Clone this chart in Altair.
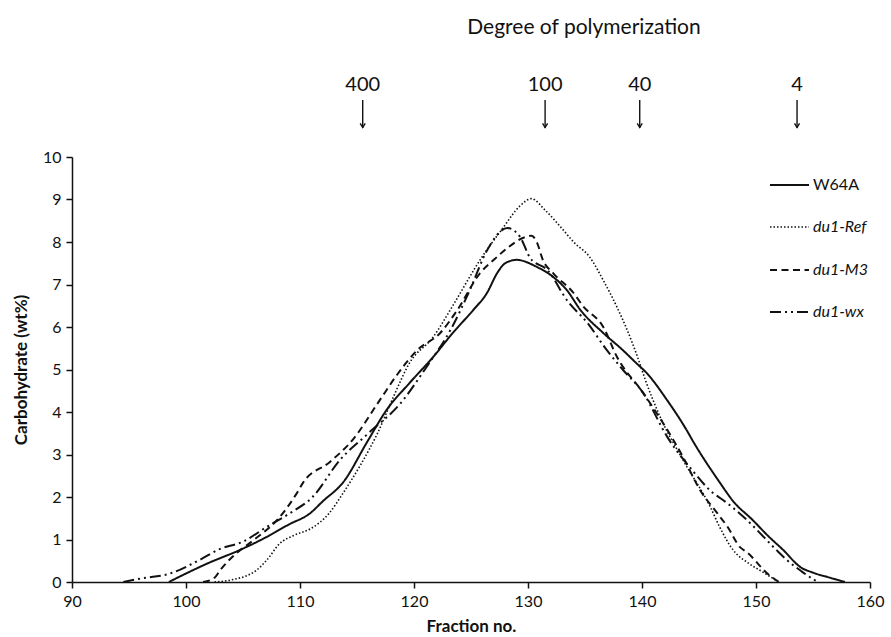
import altair as alt
import pandas as pd

# Elution profiles: fraction number vs carbohydrate (wt%)
w64a_x = [98.5, 100, 102, 104.7, 107, 109, 110.9, 112, 113.8, 115.9, 117.6, 119.6, 121.7, 123.4, 125.2,
          126.4, 127.3, 128, 129, 130.8, 132.2, 133.4, 134.6, 136.6, 138.3, 139.5, 140.4, 142.2, 143.9,
          144.5, 146.8, 148, 149.7, 151, 152.4, 153.9, 155, 156.5, 157.8]
w64a_y = [0, 0.2, 0.45, 0.75, 1.05, 1.35, 1.62, 1.9, 2.35, 3.3, 4.05, 4.68, 5.3, 5.86, 6.4,
          6.8, 7.27, 7.5, 7.58, 7.41, 7.18, 6.87, 6.4, 5.86, 5.46, 5.15, 4.92, 4.28, 3.58,
          3.3, 2.35, 1.9, 1.46, 1.1, 0.75, 0.35, 0.22, 0.1, 0]

ref_x = [102.5, 104, 106.2, 107.1, 108.2, 109.5, 110.9, 112.5, 113.8, 115.3, 116.8, 118.2, 119.6, 121.7,
         123.4, 125.8, 127.8, 129.3, 130.3, 131.5, 133.1, 134, 135.4, 136.6, 137.8, 138.7, 139.6, 140.3,
         141.6, 143.6, 146, 146.8, 148, 149.3, 150.5, 152]
ref_y = [0, 0.05, 0.28, 0.52, 0.9, 1.1, 1.25, 1.6, 2.1, 2.75, 3.5, 4.36, 5.15, 5.77,
         6.5, 7.58, 8.33, 8.85, 9.02, 8.75, 8.28, 8.0, 7.65, 7.1, 6.47, 5.93, 5.3, 4.75,
         3.88, 2.87, 1.76, 1.3, 0.75, 0.45, 0.25, 0]

m3_x = [101.5, 102.5, 103, 104.1, 106, 108, 109.7, 110.3, 112.6, 114.6, 117, 118.5, 120.3, 122.3, 123.8,
        125.8, 127, 128.3, 129.6, 130.3, 130.8, 131.3, 132.2, 134, 134.8, 136.6, 137.8, 140.1, 143.6,
        145.1, 146.6, 147.5, 148.6, 149.2, 151, 152]
m3_y = [0, 0.1, 0.28, 0.6, 1.0, 1.46, 2.08, 2.35, 2.82, 3.34, 4.28, 4.87, 5.46, 5.86, 6.4,
        7.27, 7.58, 7.88, 8.1, 8.15, 7.98, 7.58, 7.27, 6.8, 6.5, 6.0, 5.3, 4.45, 2.94,
        2.16, 1.62, 1.3, 0.82, 0.7, 0.2, 0]

wx_x = [94.5, 96, 98.6, 101.2, 103, 105, 107.1, 109, 111.1, 113.5, 116, 118.8, 121.1, 123.2, 124.9,
        126.4, 128.2, 129.3, 130.2, 131.7, 133.5, 135.2, 136.9, 138.3, 140.1, 142.2, 144.5, 146.2,
        147.1, 149.2, 150.1, 151.8, 152.7, 154, 155.4]
wx_y = [0, 0.08, 0.2, 0.52, 0.78, 0.95, 1.3, 1.6, 2.0, 2.87, 3.5, 4.2, 5.06, 5.93, 6.87,
        7.8, 8.33, 8.12, 7.62, 7.34, 6.6, 6.1, 5.46, 5.0, 4.45, 3.42, 2.6, 2.1,
        1.93, 1.46, 1.22, 0.75, 0.52, 0.25, 0]

series_names = ["W64A", "du1-Ref", "du1-M3", "du1-wx"]
series_data = [(w64a_x, w64a_y), (ref_x, ref_y), (m3_x, m3_y), (wx_x, wx_y)]

# Degree-of-polymerization markers along the top
dp_labels = ["400", "100", "40", "4"]
dp_fraction = [115.5, 131.5, 139.8, 153.6]

FONT = "Lato"
INK = "#111111"
W, H = 798, 425

styles = {
    "W64A": dict(dash=[1, 0], width=2.0),
    "du1-Ref": dict(dash=[1.5, 2], width=1.6),
    "du1-M3": dict(dash=[7, 4.5], width=2.0),
    "du1-wx": dict(dash=[11, 4, 2, 4, 2, 4], width=2.0),
}

x_scale = alt.Scale(domain=[90, 160], nice=False, zero=False)
y_scale = alt.Scale(domain=[0, 10], nice=False)

x_axis = alt.Axis(values=list(range(90, 161, 10)), title="Fraction no.", grid=False,
                  labelFlush=False, titlePadding=9)
y_axis = alt.Axis(values=list(range(0, 11)), title="Carbohydrate (wt%)", grid=False,
                  labelFlush=False, titlePadding=12)

layers = []
for name, (xs, ys) in zip(series_names, series_data):
    df = pd.DataFrame({"fraction": xs, "wt": ys, "sample": name})
    st = styles[name]
    layers.append(
        alt.Chart(df).mark_line(
            color=INK, strokeWidth=st["width"], strokeDash=st["dash"],
            interpolate="monotone", clip=False
        ).encode(
            x=alt.X("fraction:Q", scale=x_scale, axis=x_axis),
            y=alt.Y("wt:Q", scale=y_scale, axis=y_axis),
            order="fraction:Q",
        )
    )

# Legend drawn at the upper right
legend_rows = [28, 70, 113, 155]
for name, yy in zip(series_names, legend_rows):
    st = styles[name]
    ldf = pd.DataFrame({"sample": [name]})
    layers.append(
        alt.Chart(ldf).mark_rule(color=INK, strokeWidth=st["width"], strokeDash=st["dash"]).encode(
            x=alt.value(698), x2=alt.value(737), y=alt.value(yy)
        )
    )
    layers.append(
        alt.Chart(ldf).mark_text(
            align="left", baseline="middle", font=FONT, fontSize=16, color=INK,
            fontStyle="normal" if name == "W64A" else "italic"
        ).encode(x=alt.value(741), y=alt.value(yy), text="sample:N")
    )

# DP arrows and labels above the plot
dp_df = pd.DataFrame({"fraction": dp_fraction, "dp": dp_labels})
layers.append(
    alt.Chart(dp_df).mark_text(font=FONT, fontSize=20, color=INK, baseline="middle").encode(
        x=alt.X("fraction:Q", scale=x_scale, axis=x_axis), y=alt.value(-72), text="dp:N"
    )
)
layers.append(
    alt.Chart(dp_df).mark_rule(color=INK, strokeWidth=1.4).encode(
        x=alt.X("fraction:Q", scale=x_scale, axis=x_axis), y=alt.value(-57), y2=alt.value(-29)
    )
)
layers.append(
    alt.Chart(dp_df).mark_point(
        shape="M -0.6 -1 L 0 0 L 0.6 -1", filled=False, color=INK, strokeWidth=1.4, size=70, opacity=1
    ).encode(x=alt.X("fraction:Q", scale=x_scale, axis=x_axis), y=alt.value(-29.5))
)
title_df = pd.DataFrame({"t": ["Degree of polymerization"]})
layers.append(
    alt.Chart(title_df).mark_text(font=FONT, fontSize=21, color=INK, baseline="middle").encode(
        x=alt.value(512), y=alt.value(-129), text="t:N"
    )
)

chart = alt.layer(*layers).properties(
    width=W, height=H,
    autosize=alt.AutoSizeParams(type="none"),
    padding={"left": 72, "top": 157, "right": 21, "bottom": 55},
    background="white",
).configure_view(stroke=None).configure_axis(
    labelFont=FONT, titleFont=FONT, labelFontSize=16, titleFontSize=17, titleFontWeight="bold",
    labelColor=INK, titleColor=INK, domainColor=INK, tickColor=INK,
    domainWidth=1.5, tickWidth=1.5, tickSize=6, labelPadding=5,
)

chart.save("out.html", embed_options={"renderer": "svg", "actions": False})
